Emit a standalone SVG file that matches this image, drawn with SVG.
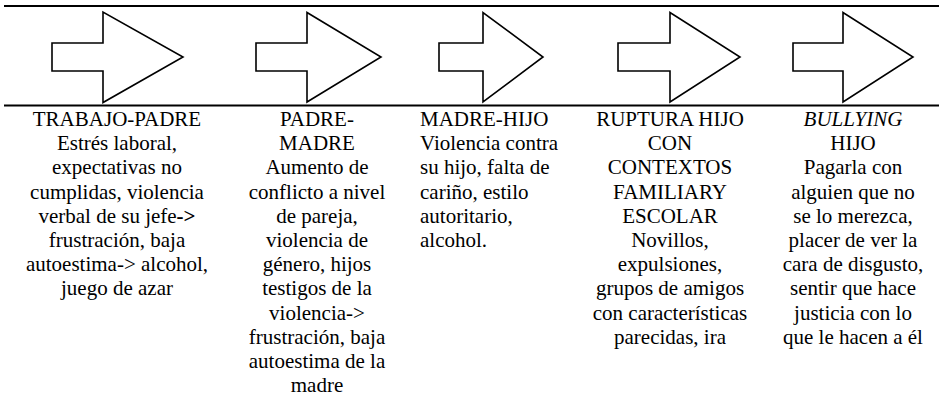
<svg xmlns="http://www.w3.org/2000/svg" width="939" height="398" viewBox="0 0 939 398">
<style>
.rule{stroke:#000;stroke-width:2.2;fill:none}
.arrow{fill:#fff;stroke:#000;stroke-width:1.6;stroke-linejoin:miter}
.t{font-family:'Liberation Serif','Times New Roman',serif;font-size:21px;fill:#000}
.c{text-anchor:middle}
.l{text-anchor:start}
</style>
<rect width="939" height="398" fill="#fff"/>
<g id="frame">
<line class="rule" x1="4" y1="6" x2="939" y2="6"/>
<line class="rule" x1="4" y1="105.5" x2="939" y2="105.5"/>
</g>
<g id="connectors">
<polygon class="arrow" points="52,43 103,43 103,12 183,57 103,102.5 103,71 52,71"/>
<polygon class="arrow" points="256,43 307,43 307,12.5 381,57 307,102 307,71 256,71"/>
<polygon class="arrow" points="439,43 483,43 483,12.5 543,57 483,102 483,71 439,71"/>
<polygon class="arrow" points="618,43 670,43 670,12.5 740,57 670,102 670,71 618,71"/>
<polygon class="arrow" points="793,43 843,43 843,12.5 913,57 843,102 843,71 793,71"/>
</g>
<g id="node-trabajo-padre" class="t c">
<text x="117" y="126">TRABAJO-PADRE</text>
<text x="117" y="150.2">Estrés laboral,</text>
<text x="117" y="174.4">expectativas no</text>
<text x="117" y="198.6">cumplidas, violencia</text>
<text x="117" y="222.8">verbal de su jefe<tspan font-weight="bold">-&gt;</tspan></text>
<text x="117" y="247">frustración, baja</text>
<text x="117" y="271.2">autoestima-&gt; alcohol,</text>
<text x="117" y="295.4">juego de azar</text>
</g>
<g id="node-padre-madre" class="t c">
<text x="317" y="126">PADRE-</text>
<text x="317" y="150.2">MADRE</text>
<text x="317" y="174.4">Aumento de</text>
<text x="317" y="198.6">conflicto a nivel</text>
<text x="317" y="222.8">de pareja,</text>
<text x="317" y="247">violencia de</text>
<text x="317" y="271.2">género, hijos</text>
<text x="317" y="295.4">testigos de la</text>
<text x="317" y="319.6">violencia-&gt;</text>
<text x="317" y="343.8">frustración, baja</text>
<text x="317" y="368">autoestima de la</text>
<text x="317" y="392.2">madre</text>
</g>
<g id="node-madre-hijo" class="t l">
<text x="420" y="126">MADRE-HIJO</text>
<text x="420" y="150.2">Violencia contra</text>
<text x="420" y="174.4">su hijo, falta de</text>
<text x="420" y="198.6">cariño, estilo</text>
<text x="420" y="222.8">autoritario,</text>
<text x="420" y="247">alcohol.</text>
</g>
<g id="node-ruptura" class="t c">
<text x="670" y="126">RUPTURA HIJO</text>
<text x="670" y="150.2">CON</text>
<text x="670" y="174.4">CONTEXTOS</text>
<text x="670" y="198.6">FAMILIARY</text>
<text x="670" y="222.8">ESCOLAR</text>
<text x="670" y="247">Novillos,</text>
<text x="670" y="271.2">expulsiones,</text>
<text x="670" y="295.4">grupos de amigos</text>
<text x="670" y="319.6">con características</text>
<text x="670" y="343.8">parecidas, ira</text>
</g>
<g id="node-bullying" class="t c">
<text x="853" y="126" font-style="italic">BULLYING</text>
<text x="853" y="150.2">HIJO</text>
<text x="853" y="174.4">Pagarla con</text>
<text x="853" y="198.6">alguien que no</text>
<text x="853" y="222.8">se lo merezca,</text>
<text x="853" y="247">placer de ver la</text>
<text x="853" y="271.2">cara de disgusto,</text>
<text x="853" y="295.4">sentir que hace</text>
<text x="853" y="319.6">justicia con lo</text>
<text x="853" y="343.8">que le hacen a él</text>
</g>
</svg>
